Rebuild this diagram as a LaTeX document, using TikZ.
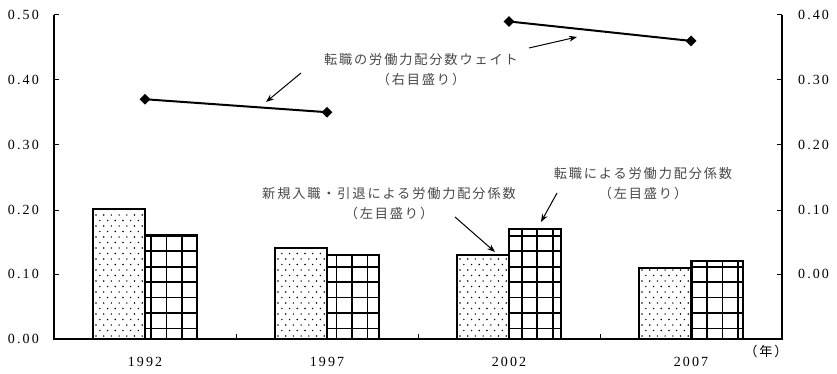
\documentclass[tikz,border=0pt]{standalone}
\usepackage{fontspec}
\setmainfont{Liberation Serif}
\newfontfamily\jp{Noto Sans CJK JP}
\usetikzlibrary{shapes.geometric,arrows.meta}
\begin{document}
\begin{tikzpicture}[x=1pt,y=-1pt,
  axis/.style={line width=2pt},
  tick/.style={line width=1pt},
  outline/.style={draw, line width=2pt},
  gridln/.style={line width=1.6pt},
  num/.style={font=\addfontfeature{LetterSpace=15}\fontsize{14}{14}\selectfont, inner sep=0pt},
  lbl/.style={font=\jp\addfontfeature{LetterSpace=14}\fontsize{13.2}{20}\selectfont, text=black!72, align=center, inner sep=0pt},
  ann/.style={-{Stealth[length=8pt,width=6pt]}, line width=1pt},
  mk/.style={diamond, fill=black, inner sep=0pt, minimum size=11pt},
  wline/.style={line width=2pt}
]
\useasboundingbox (0,0) rectangle (837,374);

% ---------- bars ----------
% dotted bars: center, value
\foreach \cx/\v in {145/0.20, 327/0.14, 509/0.13, 691/0.11}{
  \pgfmathsetmacro{\top}{339-\v*648}
  \begin{scope}
    \clip (\cx-52,\top) rectangle (\cx,339);
    \foreach \r in {0,...,24}{
      \pgfmathsetmacro{\yy}{336-\r*5.5}
      \pgfmathsetmacro{\sh}{mod(\r,2)*3.85}
      \foreach \c in {0,...,7}{
        \fill (\cx-49+\c*7.7+\sh,\yy) circle (0.8);
      }
    }
  \end{scope}
  \draw[outline] (\cx-52,\top) rectangle (\cx,339);
}
% grid bars
\foreach \cx/\v in {145/0.16, 327/0.13, 509/0.17, 691/0.12}{
  \pgfmathsetmacro{\top}{339-\v*648}
  \begin{scope}
    \clip (\cx,\top) rectangle (\cx+52,339);
    \foreach \k in {0,...,46}{
      \draw[gridln] (151+\k*15.45-15.45,\top) -- (151+\k*15.45-15.45,339);
    }
    \foreach \k in {0,...,9}{
      \draw[gridln] (\cx,328.5-\k*15.45) -- (\cx+52,328.5-\k*15.45);
    }
  \end{scope}
  \draw[outline] (\cx,\top) rectangle (\cx+52,339);
}

% ---------- axes ----------
\coordinate (ltop) at (54,15);
\coordinate (lbot) at (54,339);
\coordinate (rtop) at (782,15);
\coordinate (rbot) at (782,339);
\draw[axis] (ltop) -- (lbot) -- (rbot) -- (rtop);
\foreach \y in {15,80,145,210,274}{
  \draw[tick] (54,\y) -- (59,\y);
  \draw[tick] (782,\y) -- (777,\y);
}
\foreach \x in {236,418,600}{
  \draw[tick] (\x,339) -- (\x,334);
}

% left labels
\foreach \y/\t in {15/0.50, 80/0.40, 145/0.30, 210/0.20, 274/0.10, 339/0.00}{
  \node[num, anchor=east] (L\t) at (39,\y) {\t};
}
% right labels
\foreach \y/\t in {15/0.40, 80/0.30, 145/0.20, 210/0.10, 274/0.00}{
  \node[num, anchor=west] (R\t) at (798,\y) {\t};
}
% year labels
\foreach \x/\t in {145/1992, 327/1997, 509/2002, 691/2007}{
  \node[num] (Y\t) at (\x,362) {\t};
}
\node[lbl, text=black] (nen) at (766,351) {（年）};

% ---------- line series (right scale) ----------
\node[mk] (p1) at (145,{339-0.37*648}) {};
\node[mk] (p2) at (327,{339-0.35*648}) {};
\node[mk] (p3) at (509,{339-0.49*648}) {};
\node[mk] (p4) at (691,{339-0.46*648}) {};
\draw[wline] (p1.center) -- (p2.center);
\draw[wline] (p3.center) -- (p4.center);

% ---------- annotations ----------
\node[lbl] (t1) at (421,70) {転職の労働力配分数ウェイト\\（右目盛り）};
\node[lbl] (t2) at (389,204) {新規入職・引退による労働力配分係数\\（左目盛り）};
\node[lbl] (t3) at (643,184) {転職による労働力配分係数\\（左目盛り）};

\coordinate (a1s) at (301,73);  \coordinate (a1e) at (266,102);
\coordinate (a2s) at (529,48);  \coordinate (a2e) at (577,37);
\coordinate (a3s) at (455,217); \coordinate (a3e) at (495,252);
\coordinate (a4s) at (557,193); \coordinate (a4e) at (541,222);
\draw[ann] (a1s) -- (a1e);
\draw[ann] (a2s) -- (a2e);
\draw[ann] (a3s) -- (a3e);
\draw[ann] (a4s) -- (a4e);
\end{tikzpicture}
\end{document}
